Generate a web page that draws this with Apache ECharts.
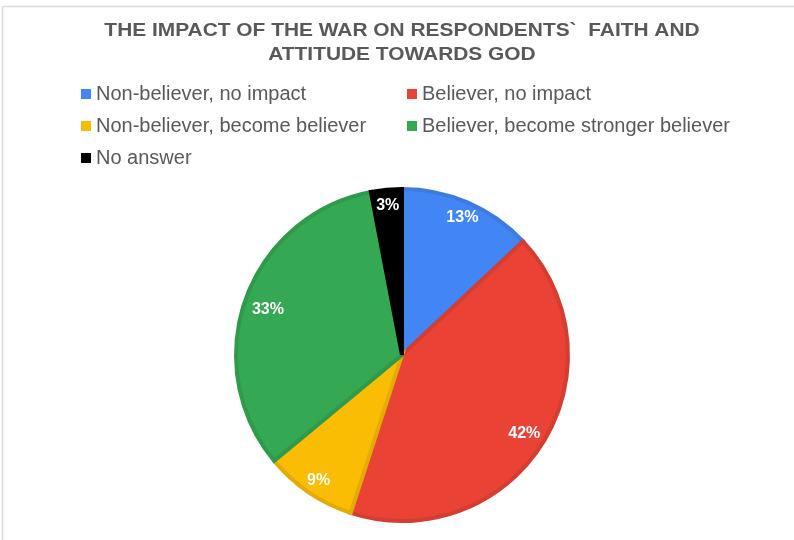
<!DOCTYPE html>
<html>
<head>
<meta charset="utf-8">
<script src="https://cdn.jsdelivr.net/npm/echarts@6/dist/echarts.min.js"></script>
<style>
  html, body { margin: 0; padding: 0; background: #fff; }
  #chart { width: 794px; height: 540px; }
</style>
</head>
<body>
<div id="chart"></div>
<script>
// Survey answers: share of respondents (%)
const categories = [
  'Non-believer, no impact',
  'Believer, no impact',
  'Non-believer, become believer',
  'Believer, become stronger believer',
  'No answer'
];
const shares = [13, 42, 9, 33, 3];
const fillColors = ['#4285F4', '#EA4335', '#FBBC04', '#34A853', '#000000'];
const edgeColors = ['#3D7BE0', '#D43D31', '#E5AB04', '#2F9A4C', '#000000'];

const titleLines = ['THE IMPACT OF THE WAR ON RESPONDENTS`  FAITH AND', 'ATTITUDE TOWARDS GOD'];

const pieCenter = [402, 355];
const font = 'Liberation Sans, Arial, sans-serif';

// small nudges so the labels sit where a spreadsheet would put them
const labelNudge = [[0, 2], [-6, -3], [2, 0], [9, 6], [0, 2]];

const slices = categories.map((name, i) => ({
  name,
  value: shares[i],
  itemStyle: { color: fillColors[i], borderColor: edgeColors[i] }
}));

const chart = echarts.init(document.getElementById('chart'), null, { renderer: 'canvas' });

chart.setOption({
  backgroundColor: '#ffffff',
  animation: false,
  legend: {
    data: categories,
    left: 81,
    top: 83,
    width: 700,
    padding: 0,
    icon: 'rect',
    itemWidth: 10,
    itemHeight: 10,
    itemGap: 10,
    selectedMode: false,
    itemStyle: { borderWidth: 0 },
    textStyle: {
      fontFamily: font,
      fontSize: 20,
      color: '#595959',
      width: 301,
      lineHeight: 22
    }
  },
  graphic: [
    { type: 'line', shape: { x1: 2.5, y1: 6.5, x2: 794, y2: 6.5 }, style: { stroke: '#d9d9d9', lineWidth: 1.5 }, silent: true },
    { type: 'line', shape: { x1: 2.5, y1: 6.5, x2: 2.5, y2: 540 }, style: { stroke: '#d9d9d9', lineWidth: 1.5 }, silent: true },
    ...titleLines.map((line, i) => ({
      type: 'text',
      x: 402,
      y: 31 + i * 24,
      scaleX: 1.1,
      silent: true,
      style: {
        text: line,
        fill: '#595959',
        font: 'bold 19px ' + font,
        textAlign: 'center',
        textVerticalAlign: 'middle'
      }
    }))
  ],
  series: [
    {
      type: 'pie',
      center: pieCenter,
      radius: [0, 166],
      startAngle: 90,
      clockwise: true,
      silent: true,
      data: slices,
      itemStyle: { borderWidth: 4, borderJoin: 'miter' },
      label: { show: false },
      labelLine: { show: false },
      emphasis: { disabled: true }
    },
    {
      // transparent ring carrying the percentage labels
      type: 'pie',
      center: pieCenter,
      radius: [128, 170],
      startAngle: 90,
      clockwise: true,
      silent: true,
      data: categories.map((name, i) => ({
        name,
        value: shares[i],
        label: { offset: labelNudge[i] }
      })),
      itemStyle: { color: 'rgba(0,0,0,0)', borderWidth: 0 },
      label: {
        show: true,
        position: 'inside',
        formatter: '{c}%',
        color: '#ffffff',
        fontFamily: font,
        fontSize: 16,
        fontWeight: 'bold',
        rotate: 0
      },
      labelLine: { show: false },
      emphasis: { disabled: true }
    }
  ]
});
</script>
</body>
</html>
